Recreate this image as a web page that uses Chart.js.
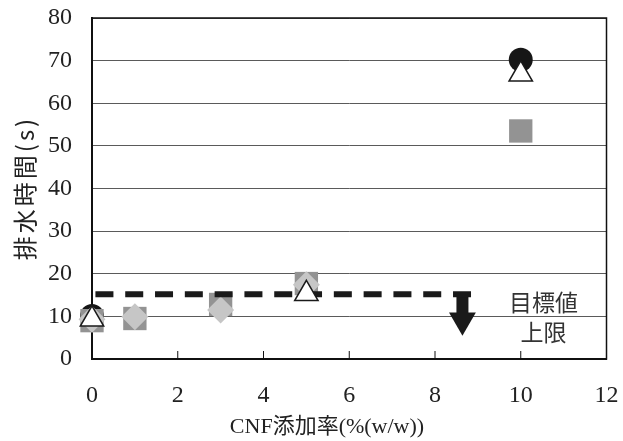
<!DOCTYPE html>
<html>
<head>
<meta charset="utf-8">
<script src="https://cdn.jsdelivr.net/npm/chart.js@4.4.1/dist/chart.umd.min.js"></script>
<style>
  html, body { margin: 0; padding: 0; background: #fff; }
  #wrap { width: 623px; height: 441px; }
</style>
</head>
<body>
<div id="wrap"><canvas id="chart" width="623" height="441"></canvas></div>
<script>
// values
const circleX = [0, 10];
const circleY = [10.1, 70.2];
const triangleX = [0, 5, 10];
const triangleY = [9.3, 15.3, 66.8];
const squareX = [0, 1, 3, 5, 10];
const squareY = [9.0, 9.5, 12.8, 17.7, 53.5];
const diamondX = [0, 1, 3, 5];
const diamondY = [9.3, 9.9, 11.5, 17.4];

// target upper limit: dashed line and arrow
const targetX = [0.08, 8.84];
const targetY = [15.2, 15.2];
const arrowX = [8.64, 8.64];
const arrowY = [15.2, 10.8];
const arrowHeadX = [8.64];
const arrowHeadY = [9.1];

const xTicks = [0, 2, 4, 6, 8, 10, 12];
const yTicks = [0, 10, 20, 30, 40, 50, 60, 70, 80];
const xTitle = 'CNF添加率(%(w/w))';
const yTitle = '排水時間(s)';
const noteLines = ['目標値', '上限'];
const noteX = 10.53;
const noteY = [13.4, 6.3];

const serif = "'Liberation Serif', 'Noto Sans CJK JP', serif";
const cjk = "'Noto Sans CJK JP', 'Liberation Serif', sans-serif";

function toPoints(xs, ys) {
    return xs.map((x, i) => ({ x: x, y: ys[i] }));
}

// box round the plot, inward tick marks on x, titles and the note
const frame = {
    id: 'frame',
    beforeDatasetsDraw(chart) {
        const { ctx, chartArea: a, scales: { x } } = chart;
        ctx.save();
        ctx.strokeStyle = '#111';
        ctx.lineWidth = 1.5;
        ctx.strokeRect(a.left, a.top, a.right - a.left, a.bottom - a.top);
        ctx.lineWidth = 1;
        xTicks.forEach(v => {
            const px = x.getPixelForValue(v);
            ctx.beginPath();
            ctx.moveTo(px, a.bottom);
            ctx.lineTo(px, a.bottom - 8);
            ctx.stroke();
        });
        ctx.restore();
    },
    afterDraw(chart) {
        const { ctx, scales: { x, y } } = chart;
        ctx.save();
        ctx.fillStyle = '#222';
        ctx.textAlign = 'center';
        ctx.textBaseline = 'middle';

        ctx.font = "22px " + serif;
        ctx.fillText(xTitle, 327, 427);

        ctx.save();
        ctx.translate(25, 188);
        ctx.rotate(-Math.PI / 2);
        ctx.font = "24px " + cjk;
        if ('letterSpacing' in ctx) ctx.letterSpacing = '3px';
        ctx.fillText(yTitle, 0, 0);
        ctx.restore();

        ctx.fillStyle = '#333';
        ctx.font = "23px " + cjk;
        noteLines.forEach((t, i) => {
            ctx.fillText(t, x.getPixelForValue(noteX), y.getPixelForValue(noteY[i]));
        });
        ctx.restore();
    }
};

const ctx = document.getElementById('chart').getContext('2d');

new Chart(ctx, {
    type: 'scatter',
    data: {
        datasets: [
            {
                label: 'triangle',
                data: toPoints(triangleX, triangleY),
                pointStyle: 'triangle',
                pointRadius: 13.5,
                pointBackgroundColor: '#fff',
                pointBorderColor: '#1a1a1a',
                pointBorderWidth: 1.5,
                clip: false
            },
            {
                label: 'target',
                data: toPoints(targetX, targetY),
                showLine: true,
                borderColor: '#1a1a1a',
                borderWidth: 6,
                borderDash: [18, 11.8],
                pointRadius: 0,
                clip: false
            },
            {
                label: 'arrow',
                data: toPoints(arrowX, arrowY),
                showLine: true,
                borderColor: '#1a1a1a',
                borderWidth: 12,
                pointRadius: 0,
                clip: false
            },
            {
                label: 'arrowHead',
                data: toPoints(arrowHeadX, arrowHeadY),
                pointStyle: 'triangle',
                rotation: 180,
                pointRadius: 15.5,
                pointBackgroundColor: '#1a1a1a',
                pointBorderWidth: 0,
                clip: false
            },
            {
                label: 'diamond',
                data: toPoints(diamondX, diamondY),
                pointStyle: 'rectRot',
                pointRadius: 13.5,
                pointBackgroundColor: '#c6c6c6',
                pointBorderWidth: 0,
                clip: false
            },
            {
                label: 'square',
                data: toPoints(squareX, squareY),
                pointStyle: 'rect',
                pointRadius: 16.5,
                pointBackgroundColor: '#939393',
                pointBorderWidth: 0,
                clip: false
            },
            {
                label: 'circle',
                data: toPoints(circleX, circleY),
                pointStyle: 'circle',
                pointRadius: 12,
                pointBackgroundColor: '#161616',
                pointBorderWidth: 0,
                clip: false
            }
        ]
    },
    options: {
        responsive: false,
        animation: false,
        events: [],
        layout: { padding: { top: 18, right: 15, left: 0, bottom: 0 } },
        plugins: {
            legend: { display: false },
            tooltip: { enabled: false }
        },
        scales: {
            x: {
                type: 'linear',
                min: 0,
                max: 12,
                afterBuildTicks: s => { s.ticks = xTicks.map(v => ({ value: v })); },
                afterFit: s => { s.height = 82; s.paddingLeft = 0; s.paddingRight = 0; },
                grid: { display: false, drawTicks: false },
                border: { display: true, color: '#111', width: 2 },
                ticks: {
                    padding: 22,
                    color: '#222',
                    font: { family: serif, size: 24 }
                }
            },
            y: {
                type: 'linear',
                min: 0,
                max: 80,
                afterBuildTicks: s => { s.ticks = yTicks.map(v => ({ value: v })); },
                afterFit: s => { s.width = 92; s.paddingTop = 0; s.paddingBottom = 0; },
                grid: { color: '#5a5a5a', lineWidth: 1, drawTicks: false },
                border: { display: true, color: '#111', width: 2 },
                ticks: {
                    padding: 20,
                    color: '#222',
                    font: { family: serif, size: 24 }
                }
            }
        }
    },
    plugins: [frame]
});
</script>
</body>
</html>
